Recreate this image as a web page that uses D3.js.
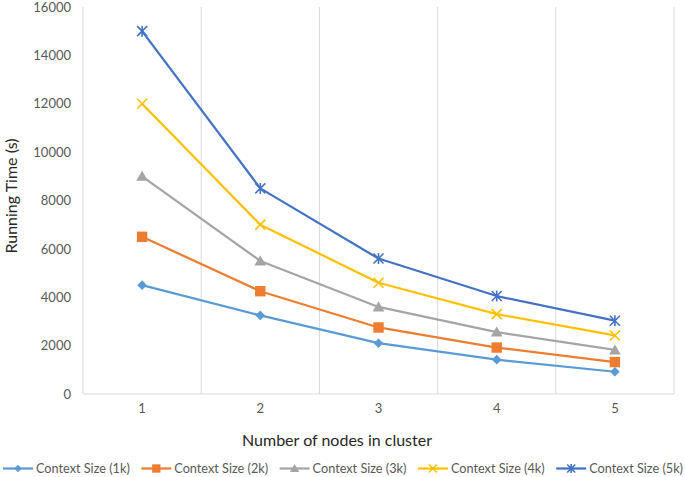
<!DOCTYPE html>
<html><head><meta charset="utf-8">
<script src="https://cdn.jsdelivr.net/npm/d3@7/dist/d3.min.js"></script>
<style>
html,body{margin:0;padding:0;background:#fff;}
svg{display:block;font-family:Lato,"Open Sans",sans-serif;}
</style></head>
<body>
<svg id="chart" width="685" height="477"></svg>
<script>
const categories = ["1","2","3","4","5"];
const seriesNames = ["Context Size (1k)","Context Size (2k)","Context Size (3k)","Context Size (4k)","Context Size (5k)"];
const values1k = [4500, 3250, 2100, 1420, 920];
const values2k = [6500, 4250, 2750, 1920, 1320];
const values3k = [9000, 5500, 3600, 2560, 1820];
const values4k = [12000, 7000, 4600, 3300, 2420];
const values5k = [15000, 8500, 5600, 4050, 3030];
const yTicks = [0, 2000, 4000, 6000, 8000, 10000, 12000, 14000, 16000];
const colors = ["#5B9BD5","#ED7D31","#A5A5A5","#FFC000","#4472C4"];
const markers = ["diamond","square","triangle","x","asterisk"];

const allSeries = [values1k, values2k, values3k, values4k, values5k].map((v,i)=>({name:seriesNames[i], values:v, color:colors[i], marker:markers[i]}));

const svg = d3.select("#chart");
const mLeft = 83, mRight = 674, mTop = 7, mBottom = 394;
const x = d3.scaleBand().domain(categories).range([mLeft, mRight]);
const y = d3.scaleLinear().domain([0, 16000]).range([mBottom, mTop]);

// vertical gridlines at category boundaries
const bounds = categories.map(c => x(c)).concat([x(categories[categories.length-1]) + x.bandwidth()]);
svg.append("g").selectAll("line").data(bounds).join("line")
  .attr("x1", d=>d).attr("x2", d=>d).attr("y1", y(16000)).attr("y2", y(0))
  .attr("stroke", "#D9D9D9").attr("stroke-width", 1);
// bottom axis line
svg.append("line").attr("x1", mLeft).attr("x2", mRight).attr("y1", y(0)).attr("y2", y(0))
  .attr("stroke", "#D9D9D9").attr("stroke-width", 1);

// y axis
const yAxis = svg.append("g").attr("transform", `translate(${mLeft},0)`)
  .call(d3.axisLeft(y).tickValues(yTicks).tickSize(0).tickPadding(12).tickFormat(d3.format("d")));
yAxis.select(".domain").remove();
yAxis.selectAll("text").attr("font-size", 13).attr("fill", "#595959").style("font-family", 'Lato,sans-serif');

// x axis
const xAxis = svg.append("g").attr("transform", `translate(0,${mBottom})`)
  .call(d3.axisBottom(x).tickSize(0).tickPadding(10));
xAxis.select(".domain").remove();
xAxis.selectAll("text").attr("font-size", 13).attr("fill", "#595959").style("font-family", 'Lato,sans-serif');

// axis titles
svg.append("text").attr("x", 337).attr("y", 446).attr("text-anchor","middle")
  .attr("font-size", 16).attr("fill", "#262626").text("Number of nodes in cluster");
svg.append("text").attr("transform", `translate(17,196) rotate(-90)`).attr("text-anchor","middle")
  .attr("font-size", 16).attr("fill", "#262626").text("Running Time (s)");

function drawMarker(g, type, color, s) {
  if (type === "diamond") {
    g.append("path").attr("d", `M0,${-s}L${s},0L0,${s}L${-s},0Z`).attr("fill", color);
  } else if (type === "square") {
    g.append("rect").attr("x", -s).attr("y", -s).attr("width", 2*s).attr("height", 2*s).attr("fill", color);
  } else if (type === "triangle") {
    g.append("path").attr("d", `M0,${-s}L${s*1.05},${s*0.8}L${-s*1.05},${s*0.8}Z`).attr("fill", color);
  } else if (type === "x") {
    g.append("path").attr("d", `M${-s},${-s}L${s},${s}M${-s},${s}L${s},${-s}`).attr("stroke", color).attr("stroke-width", 1.6).attr("fill","none");
  } else if (type === "asterisk") {
    g.append("path").attr("d", `M${-s},${-s}L${s},${s}M${-s},${s}L${s},${-s}M0,${-s*1.1}L0,${s*1.1}`).attr("stroke", color).attr("stroke-width", 1.6).attr("fill","none");
  }
}
const markerSize = {diamond:4.8, square:5.2, triangle:5.6, x:5, asterisk:5};

const line = d3.line().x((d,i)=>x(categories[i]) + x.bandwidth()/2).y(d=>y(d));
allSeries.forEach(s => {
  svg.append("path").datum(s.values).attr("d", line).attr("fill","none")
    .attr("stroke", s.color).attr("stroke-width", 2.25).attr("stroke-linejoin","round");
  s.values.forEach((v,i) => {
    const g = svg.append("g").attr("transform", `translate(${x(categories[i]) + x.bandwidth()/2},${y(v)})`);
    drawMarker(g, s.marker, s.color, markerSize[s.marker]);
  });
});

// legend
const legend = svg.append("g");
allSeries.forEach((s,i) => {
  const g = legend.append("g").attr("transform", `translate(${3 + i*138.3},468.5)`);
  g.append("line").attr("x1",0).attr("x2",30).attr("y1",0).attr("y2",0).attr("stroke", s.color).attr("stroke-width",2.25);
  const mg = g.append("g").attr("transform","translate(15,0)");
  drawMarker(mg, s.marker, s.color, markerSize[s.marker]*0.8);
  g.append("text").attr("x", 33).attr("y", 0).attr("dy","0.35em").attr("font-size", 12.7)
    .attr("fill", "#595959").text(s.name);
});
</script>
</body></html>
